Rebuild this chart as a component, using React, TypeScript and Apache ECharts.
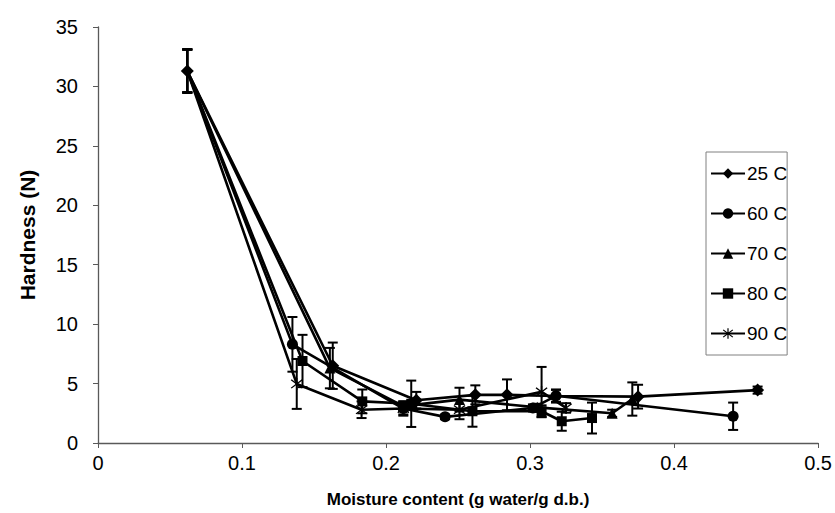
import React, { useEffect, useRef } from "react";
import * as echarts from "echarts";

const seriesNames = ["25 C", "60 C", "70 C", "80 C", "90 C"];

const x25 = [0.062, 0.163, 0.221, 0.262, 0.284, 0.318, 0.375, 0.458];
const y25 = [31.3, 6.5, 3.6, 4.05, 4.05, 3.95, 3.9, 4.45];
const e25 = [1.85, 1.95, 0.7, 0.8, 1.3, 0.55, 1.0, 0.3];

const x60 = [0.062, 0.135, 0.212, 0.241, 0.302, 0.318, 0.441];
const y60 = [31.3, 8.3, 2.9, 2.2, 2.95, 3.97, 2.25];
const e60 = [1.8, 2.3, 0.5, 0.2, 0.3, 0.5, 1.15];

const x70 = [0.062, 0.161, 0.212, 0.251, 0.305, 0.357, 0.371];
const y70 = [31.3, 6.3, 3.1, 3.65, 3.0, 2.5, 3.7];
const e70 = [1.8, 1.7, 0.4, 1.0, 0.3, 0.3, 1.4];

const x80 = [0.062, 0.142, 0.1835, 0.2175, 0.26, 0.308, 0.322, 0.343];
const y80 = [31.3, 6.9, 3.5, 3.3, 2.67, 2.67, 1.83, 2.1];
const e80 = [1.8, 2.2, 1.0, 1.95, 1.3, 0.5, 0.8, 1.3];

const x90 = [0.062, 0.138, 0.183, 0.212, 0.251, 0.308, 0.325];
const y90 = [31.3, 4.97, 2.8, 2.9, 2.8, 4.3, 2.95];
const e90 = [1.8, 2.1, 0.7, 0.6, 0.8, 2.1, 0.4];

const xTicks = [0, 0.1, 0.2, 0.3, 0.4, 0.5];
const yTicks = [0, 5, 10, 15, 20, 25, 30, 35];

const asterisk =
  "path://M9,0 L11,0 L11,20 L9,20 Z M2.66,2.25 L18.66,16.25 L17.34,17.75 L1.34,3.75 Z M18.66,3.75 L2.66,17.75 L1.34,16.25 L17.34,2.25 Z";

const groups = [
  { name: seriesNames[0], xs: x25, ys: y25, es: e25, symbol: "diamond", size: 13 },
  { name: seriesNames[1], xs: x60, ys: y60, es: e60, symbol: "circle", size: 11 },
  { name: seriesNames[2], xs: x70, ys: y70, es: e70, symbol: "triangle", size: 11 },
  { name: seriesNames[3], xs: x80, ys: y80, es: e80, symbol: "rect", size: 10 },
  { name: seriesNames[4], xs: x90, ys: y90, es: e90, symbol: asterisk, size: 12 },
];

const FONT = "'Liberation Sans', Arial, sans-serif";

export default function App() {
  const ref = useRef<HTMLDivElement>(null);
  useEffect(() => {
    if (!ref.current) return;
    const chart = echarts.init(ref.current, null, { renderer: "svg" });

    const lineSeries = groups
      .map((g, k) => ({
        name: g.name,
        type: "line",
        data: g.xs.map((x, i) =>
          i === 0 && k > 0 ? { value: [x, g.ys[i]], symbolSize: 6 } : [x, g.ys[i]]
        ),
        symbol: g.symbol,
        symbolSize: g.size,
        showAllSymbol: true,
        lineStyle: { color: "#000", width: 2.6 },
        itemStyle: { color: "#000" },
        z: 8 - k,
      }))
      .reverse();

    const errSeries = groups.map((g) => ({
      name: g.name + " err",
      type: "custom",
      data: g.xs.map((x, i) => [x, g.ys[i] - g.es[i], g.ys[i] + g.es[i]]),
      encode: { x: 0, y: [1, 2] },
      z: 2,
      renderItem: (params: any, api: any) => {
        const x = api.value(0);
        const lo = api.coord([x, api.value(1)]);
        const hi = api.coord([x, api.value(2)]);
        const w = 5;
        const st = { stroke: "#000", lineWidth: 2 };
        return {
          type: "group",
          children: [
            { type: "line", shape: { x1: hi[0], y1: hi[1], x2: lo[0], y2: lo[1] }, style: st },
            { type: "line", shape: { x1: hi[0] - w, y1: hi[1], x2: hi[0] + w, y2: hi[1] }, style: st },
            { type: "line", shape: { x1: lo[0] - w, y1: lo[1], x2: lo[0] + w, y2: lo[1] }, style: st },
          ],
        };
      },
    }));

    chart.setOption({
      animation: false,
      backgroundColor: "#fff",
      grid: { left: 98, right: 16, top: 27, bottom: 66, containLabel: false },
      legend: {
        data: seriesNames,
        orient: "vertical",
        left: 706,
        top: 152,
        padding: [12, 0, 12, 4],
        itemGap: 21,
        itemWidth: 34,
        itemHeight: 13,
        borderColor: "#808080",
        borderWidth: 1,
        textStyle: { fontSize: 19, color: "#000", fontFamily: FONT, padding: [0, 0, 0, -3] },
      },
      xAxis: {
        type: "value",
        min: xTicks[0],
        max: xTicks[xTicks.length - 1],
        interval: 0.1,
        name: "Moisture content (g water/g d.b.)",
        nameLocation: "middle",
        nameGap: 48,
        nameTextStyle: { fontSize: 17, fontWeight: "bold", color: "#000", fontFamily: FONT },
        axisLine: { lineStyle: { color: "#595959", width: 1.3 } },
        axisTick: { show: true, inside: false, length: 5, lineStyle: { color: "#595959" } },
        axisLabel: { fontSize: 20, color: "#000", margin: 10, fontFamily: FONT },
        splitLine: { show: false },
      },
      yAxis: {
        type: "value",
        min: yTicks[0],
        max: yTicks[yTicks.length - 1],
        interval: 5,
        name: "Hardness (N)",
        nameLocation: "middle",
        nameGap: 60,
        nameTextStyle: { fontSize: 21, fontWeight: "bold", color: "#000", fontFamily: FONT },
        axisLine: { show: true, lineStyle: { color: "#595959", width: 1.3 } },
        axisTick: { show: true, inside: false, length: 5, lineStyle: { color: "#595959" } },
        axisLabel: { fontSize: 20, color: "#000", margin: 20, fontFamily: FONT },
        splitLine: { show: false },
      },
      series: [...errSeries, ...lineSeries],
    });

    return () => chart.dispose();
  }, []);

  return (
    <div
      ref={ref}
      style={{ position: "fixed", left: 0, top: 0, width: 835, height: 513, background: "#fff" }}
    />
  );
}
